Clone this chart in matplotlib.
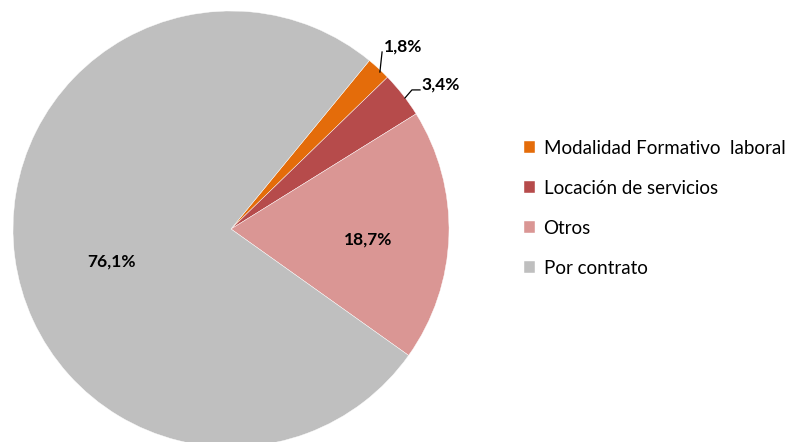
import matplotlib.pyplot as plt

categorias = ["Modalidad Formativo  laboral", "Locación de servicios", "Otros", "Por contrato"]
porcentajes = [1.8, 3.4, 18.7, 76.1]
etiquetas = ["1,8%", "3,4%", "18,7%", "76,1%"]
colores = ["#E46C0A", "#B64B4B", "#DA9694", "#BFBFBF"]

plt.rcParams["font.family"] = ["Lato", "DejaVu Sans"]

fig = plt.figure(figsize=(7.89, 4.42), dpi=100)
# axes sized so the pie sits like the reference (centre ~231,229 px, radius ~218 px)
ax = fig.add_axes([13 / 789, -5 / 442, 436 / 789, 436 / 442])
wedges, _ = ax.pie(porcentajes, colors=colores, startangle=50.6, counterclock=False,
                   wedgeprops=dict(linewidth=0.3, edgecolor="white"))
ax.set_xlim(-1, 1)
ax.set_ylim(-1, 1)
ax.set_aspect("equal")

lbl = dict(fontsize=12.5, fontweight="bold", color="black")
# inside labels
ax.text(0.628, -0.05, etiquetas[2], ha="center", va="center", **lbl)
ax.text(-0.546, -0.151, etiquetas[3], ha="center", va="center", **lbl)
# outside labels with leader lines
ax.plot([0.683, 0.693], [0.72, 0.812], color="black", lw=0.9)
ax.text(0.70, 0.839, etiquetas[0], ha="left", va="center", **lbl)
ax.plot([0.798, 0.830, 0.867], [0.601, 0.638, 0.638], color="black", lw=0.9)
ax.text(0.875, 0.661, etiquetas[1], ha="left", va="center", **lbl)

fig.legend(wedges, categorias, loc="upper left", bbox_to_anchor=(507 / 789, 1 - 123 / 442),
           frameon=False, fontsize=13.5, handlelength=0.6, handleheight=0.6,
           handletextpad=0.45, labelspacing=1.22)

fig.savefig("out.png", dpi=100)
